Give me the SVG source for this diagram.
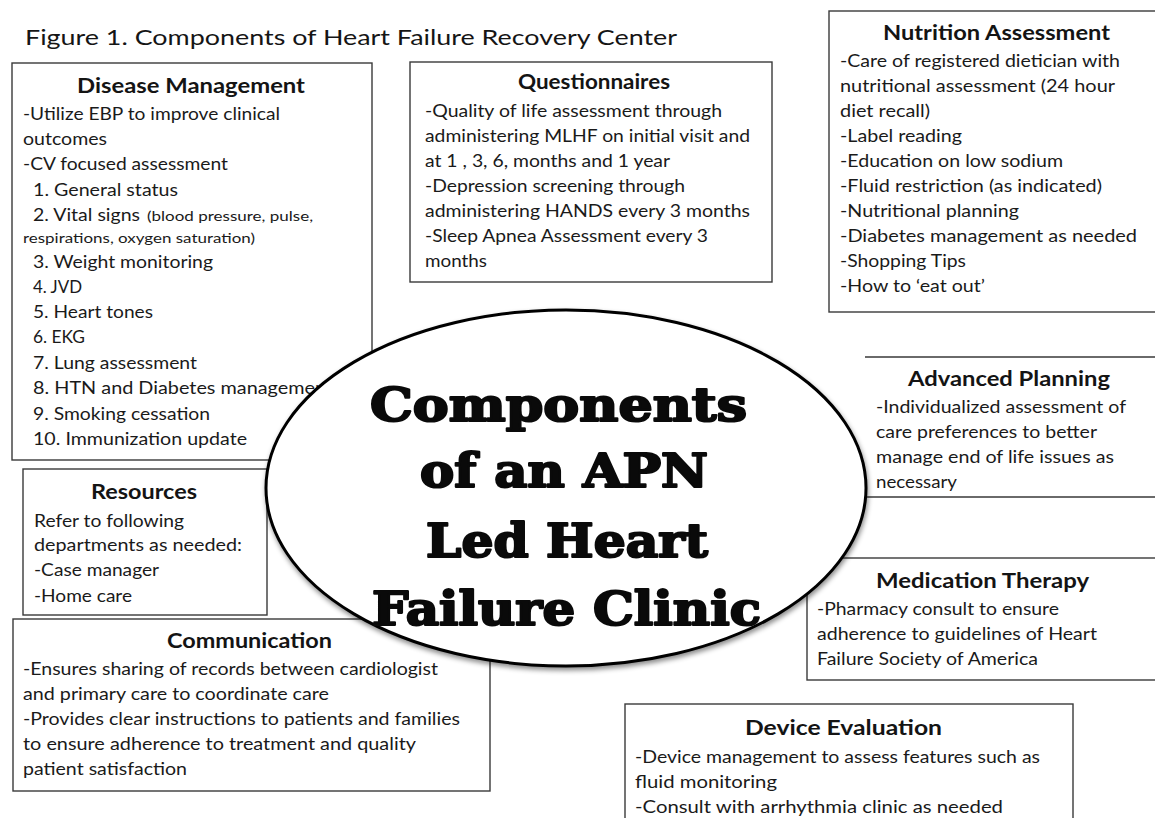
<svg xmlns="http://www.w3.org/2000/svg" width="1155" height="818" viewBox="0 0 1155 818">
  <defs>
    <style>
      .box { fill: #ffffff; stroke: #3a3a3a; stroke-width: 1.4; }
      .edge { fill: none; stroke: #3a3a3a; stroke-width: 1.4; }
      .hd { font-family: Lato, "Open Sans", sans-serif; font-weight: 700; font-size: 20.5px; fill: #141414; text-anchor: middle; }
      .tx { font-family: Lato, "Open Sans", sans-serif; font-size: 17px; fill: #1a1a1a; }
      .sm { font-family: Lato, "Open Sans", sans-serif; font-size: 14px; fill: #1a1a1a; }
      .ttl { font-family: Lato, "Open Sans", sans-serif; font-size: 21.5px; fill: #151515; }
      .big { font-family: "DejaVu Serif", "Liberation Serif", serif; font-weight: 700; font-size: 46px; fill: #0a0a0a; stroke: #0a0a0a; stroke-width: 2.2; stroke-linejoin: round; }
    </style>
    <filter id="soft" x="-10%" y="-10%" width="120%" height="125%">
      <feDropShadow dx="1" dy="3" stdDeviation="2.5" flood-color="#000" flood-opacity="0.45"/>
    </filter>
  </defs>
  <rect width="1155" height="818" fill="#ffffff"/>

  <text class="ttl" x="25" y="45" textLength="652" lengthAdjust="spacingAndGlyphs">Figure 1. Components of Heart Failure Recovery Center</text>

  <!-- left column -->
  <g id="disease-management">
    <rect class="box" x="12" y="63" width="360" height="397"/>
    <text class="hd" x="191" y="93" textLength="228" lengthAdjust="spacingAndGlyphs">Disease Management</text>
    <text class="tx" x="23" y="120" textLength="257" lengthAdjust="spacingAndGlyphs">-Utilize EBP to improve clinical</text>
    <text class="tx" x="23" y="145" textLength="84" lengthAdjust="spacingAndGlyphs">outcomes</text>
    <text class="tx" x="23" y="170" textLength="205" lengthAdjust="spacingAndGlyphs">-CV focused assessment</text>
    <text class="tx" x="33" y="196" textLength="145" lengthAdjust="spacingAndGlyphs">1. General status</text>
    <text class="tx" x="33" y="221" textLength="107" lengthAdjust="spacingAndGlyphs">2. Vital signs</text>
    <text class="sm" x="147" y="221" textLength="166" lengthAdjust="spacingAndGlyphs">(blood pressure, pulse,</text>
    <text class="sm" x="23" y="243" textLength="232" lengthAdjust="spacingAndGlyphs">respirations, oxygen saturation)</text>
    <text class="tx" x="33" y="268" textLength="180" lengthAdjust="spacingAndGlyphs">3. Weight monitoring</text>
    <text class="tx" x="33" y="293" textLength="49" lengthAdjust="spacingAndGlyphs">4. JVD</text>
    <text class="tx" x="33" y="318" textLength="120" lengthAdjust="spacingAndGlyphs">5. Heart tones</text>
    <text class="tx" x="33" y="343" textLength="52" lengthAdjust="spacingAndGlyphs">6. EKG</text>
    <text class="tx" x="33" y="369" textLength="164" lengthAdjust="spacingAndGlyphs">7. Lung assessment</text>
    <text class="tx" x="33" y="394" textLength="300" lengthAdjust="spacingAndGlyphs">8. HTN and Diabetes management</text>
    <text class="tx" x="33" y="420" textLength="177" lengthAdjust="spacingAndGlyphs">9. Smoking cessation</text>
    <text class="tx" x="33" y="445" textLength="214" lengthAdjust="spacingAndGlyphs">10. Immunization update</text>
  </g>

  <g id="resources">
    <rect class="box" x="23" y="469" width="244" height="146"/>
    <text class="hd" x="144" y="499" textLength="106" lengthAdjust="spacingAndGlyphs">Resources</text>
    <text class="tx" x="34" y="527" textLength="150" lengthAdjust="spacingAndGlyphs">Refer to following</text>
    <text class="tx" x="34" y="551" textLength="208" lengthAdjust="spacingAndGlyphs">departments as needed:</text>
    <text class="tx" x="34" y="576" textLength="125" lengthAdjust="spacingAndGlyphs">-Case manager</text>
    <text class="tx" x="34" y="602" textLength="98" lengthAdjust="spacingAndGlyphs">-Home care</text>
  </g>

  <g id="communication">
    <rect class="box" x="13" y="619" width="477" height="172"/>
    <text class="hd" x="249.5" y="648" textLength="165" lengthAdjust="spacingAndGlyphs">Communication</text>
    <text class="tx" x="23" y="675" textLength="415" lengthAdjust="spacingAndGlyphs">-Ensures sharing of records between cardiologist</text>
    <text class="tx" x="23" y="700" textLength="306" lengthAdjust="spacingAndGlyphs">and primary care to coordinate care</text>
    <text class="tx" x="23" y="725" textLength="437" lengthAdjust="spacingAndGlyphs">-Provides clear instructions to patients and families</text>
    <text class="tx" x="23" y="750" textLength="393" lengthAdjust="spacingAndGlyphs">to ensure adherence  to treatment and quality</text>
    <text class="tx" x="23" y="775" textLength="164" lengthAdjust="spacingAndGlyphs">patient satisfaction</text>
  </g>

  <!-- top middle -->
  <g id="questionnaires">
    <rect class="box" x="410" y="62" width="362" height="220"/>
    <text class="hd" x="594" y="89" textLength="152" lengthAdjust="spacingAndGlyphs">Questionnaires</text>
    <text class="tx" x="425" y="117" textLength="297" lengthAdjust="spacingAndGlyphs">-Quality of life assessment through</text>
    <text class="tx" x="425" y="142" textLength="325" lengthAdjust="spacingAndGlyphs">administering MLHF on initial visit and</text>
    <text class="tx" x="425" y="167" textLength="245" lengthAdjust="spacingAndGlyphs">at 1 , 3, 6, months and 1 year</text>
    <text class="tx" x="425" y="192" textLength="260" lengthAdjust="spacingAndGlyphs">-Depression screening through</text>
    <text class="tx" x="425" y="217" textLength="325" lengthAdjust="spacingAndGlyphs">administering HANDS  every 3 months</text>
    <text class="tx" x="425" y="242" textLength="283" lengthAdjust="spacingAndGlyphs">-Sleep Apnea Assessment every 3</text>
    <text class="tx" x="425" y="267" textLength="62" lengthAdjust="spacingAndGlyphs">months</text>
  </g>

  <!-- right column -->
  <g id="nutrition-assessment">
    <rect class="box" x="829" y="11" width="340" height="301"/>
    <text class="hd" x="996.5" y="40" textLength="227" lengthAdjust="spacingAndGlyphs">Nutrition Assessment</text>
    <text class="tx" x="840" y="67" textLength="280" lengthAdjust="spacingAndGlyphs">-Care of registered dietician with</text>
    <text class="tx" x="840" y="92" textLength="275" lengthAdjust="spacingAndGlyphs">nutritional assessment (24 hour</text>
    <text class="tx" x="840" y="117" textLength="90" lengthAdjust="spacingAndGlyphs">diet recall)</text>
    <text class="tx" x="840" y="142" textLength="122" lengthAdjust="spacingAndGlyphs">-Label reading</text>
    <text class="tx" x="840" y="167" textLength="223" lengthAdjust="spacingAndGlyphs">-Education on low sodium</text>
    <text class="tx" x="840" y="192" textLength="262" lengthAdjust="spacingAndGlyphs">-Fluid restriction (as indicated)</text>
    <text class="tx" x="840" y="217" textLength="179" lengthAdjust="spacingAndGlyphs">-Nutritional planning</text>
    <text class="tx" x="840" y="242" textLength="297" lengthAdjust="spacingAndGlyphs">-Diabetes  management as needed</text>
    <text class="tx" x="840" y="267" textLength="126" lengthAdjust="spacingAndGlyphs">-Shopping Tips</text>
    <text class="tx" x="840" y="292" textLength="145" lengthAdjust="spacingAndGlyphs">-How to ‘eat out’</text>
  </g>

  <g id="advanced-planning">
    <!-- open on the left: only the top and bottom rules are drawn -->
    <path class="edge" d="M865 357 H1160 M865 497 H1160"/>
    <text class="hd" x="1009" y="386" textLength="202" lengthAdjust="spacingAndGlyphs">Advanced Planning</text>
    <text class="tx" x="876" y="413" textLength="250" lengthAdjust="spacingAndGlyphs">-Individualized assessment of</text>
    <text class="tx" x="876" y="438" textLength="221" lengthAdjust="spacingAndGlyphs">care preferences to better</text>
    <text class="tx" x="876" y="463" textLength="238" lengthAdjust="spacingAndGlyphs">manage end of life issues as</text>
    <text class="tx" x="876" y="488" textLength="81" lengthAdjust="spacingAndGlyphs">necessary</text>
  </g>

  <g id="medication-therapy">
    <rect class="box" x="807" y="558" width="360" height="122"/>
    <text class="hd" x="982.5" y="588" textLength="213" lengthAdjust="spacingAndGlyphs">Medication Therapy</text>
    <text class="tx" x="817" y="615" textLength="242" lengthAdjust="spacingAndGlyphs">-Pharmacy consult to ensure</text>
    <text class="tx" x="817" y="640" textLength="280" lengthAdjust="spacingAndGlyphs">adherence to guidelines of Heart</text>
    <text class="tx" x="817" y="665" textLength="221" lengthAdjust="spacingAndGlyphs">Failure Society of America</text>
  </g>

  <g id="device-evaluation">
    <rect class="box" x="625" y="704" width="448" height="130"/>
    <text class="hd" x="843.5" y="735" textLength="197" lengthAdjust="spacingAndGlyphs">Device Evaluation</text>
    <text class="tx" x="635" y="763" textLength="405" lengthAdjust="spacingAndGlyphs">-Device management to assess features such as</text>
    <text class="tx" x="635" y="788" textLength="142" lengthAdjust="spacingAndGlyphs">fluid monitoring</text>
    <text class="tx" x="635" y="813" textLength="368" lengthAdjust="spacingAndGlyphs">-Consult with arrhythmia clinic as needed</text>
  </g>

  <!-- central oval, drawn last so it sits over the box corners -->
  <g id="center">
    <ellipse cx="566" cy="488" rx="300" ry="178" fill="#ffffff" stroke="#000000" stroke-width="3" filter="url(#soft)"/>
    <text class="big" x="370" y="421" textLength="377" lengthAdjust="spacingAndGlyphs">Components</text>
    <text class="big" x="420" y="487" textLength="288" lengthAdjust="spacingAndGlyphs">of an APN</text>
    <text class="big" x="426" y="557" textLength="282" lengthAdjust="spacingAndGlyphs">Led Heart</text>
    <text class="big" x="372" y="625" textLength="389" lengthAdjust="spacingAndGlyphs">Failure Clinic</text>
  </g>

  <g id="connectors"/>
</svg>
